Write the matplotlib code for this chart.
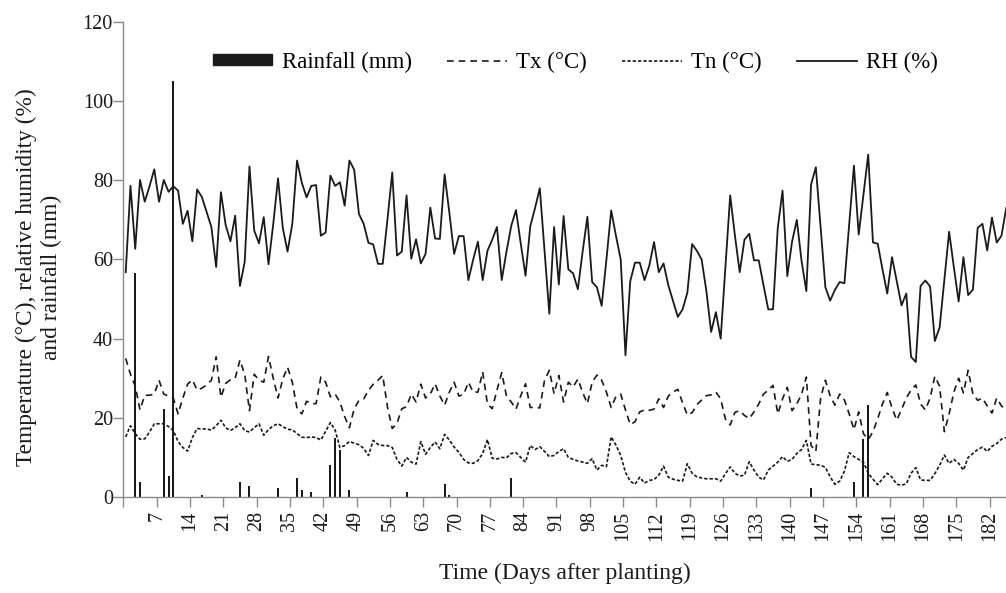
import matplotlib
matplotlib.use("Agg")
import matplotlib.pyplot as plt
import numpy as np
from matplotlib.patches import Patch
from matplotlib.lines import Line2D

# ---------------- data ----------------
days = list(range(1, 187))

rh = [56.8, 78.6, 62.7, 80.1, 74.6, 78.5, 82.8, 74.6, 80.1, 77.1,
      78.5, 77.4, 69.0, 72.3, 64.6, 77.7, 75.8, 72.0, 68.2, 58.1,
      77.0, 68.7, 64.6, 71.1, 53.3, 59.4, 83.5, 67.3, 64.1, 70.7,
      58.8, 69.0, 80.5, 68.0, 62.0, 69.0, 85.0, 79.4, 75.7, 78.6,
      78.8, 66.0, 66.8, 81.2, 78.6, 79.5, 73.6, 85.0, 82.7, 71.5,
      69.0, 64.2, 63.8, 58.9, 58.9, 70.2, 82.0, 61.0, 62.0, 76.2,
      60.2, 65.1, 59.0, 61.4, 73.1, 65.3, 65.2, 81.5, 71.8, 61.4,
      65.9, 65.9, 54.8, 60.0, 64.5, 54.8, 62.2, 65.0, 68.2, 54.8,
      62.0, 68.5, 72.5, 64.0, 55.9, 68.4, 73.0, 78.0, 62.0, 46.3,
      68.2, 53.7, 71.0, 57.5, 56.5, 52.5, 62.0, 70.8, 54.3, 53.0,
      48.3, 60.0, 72.4, 66.0, 60.0, 35.8, 54.5, 59.2, 59.2, 54.8,
      58.4, 64.4, 56.8, 59.0, 53.5, 49.5, 45.5, 47.4, 51.6, 63.9,
      62.2, 60.0, 52.0, 41.7, 46.7, 40.0, 58.0, 76.2, 66.0, 56.8,
      65.0, 66.5, 59.8, 59.8, 53.5, 47.4, 47.4, 68.0, 77.4, 55.8,
      64.5, 70.0, 59.6, 52.0, 79.0, 83.3, 68.0, 53.0, 49.6, 52.3,
      54.3, 54.0, 69.0, 83.7, 66.3, 76.5, 86.5, 64.3, 64.0, 57.5,
      51.4, 60.6, 54.5, 48.4, 51.4, 35.4, 34.1, 53.3, 54.7, 53.2,
      39.4, 42.8, 55.0, 67.0, 58.0, 49.4, 60.6, 51.0, 52.4, 68.0,
      69.0, 62.3, 70.6, 64.3, 66.0, 73.0]

tx = [35.0, 31.0, 28.0, 22.0, 25.7, 25.7, 26.0, 29.5, 26.0, 25.5,
      25.0, 21.0, 25.0, 28.5, 29.6, 27.0, 27.5, 28.3, 29.5, 35.4,
      25.2, 28.7, 29.6, 30.0, 34.6, 31.0, 21.8, 31.0, 29.5, 29.0,
      35.5, 30.0, 25.0, 29.8, 32.8, 29.0, 22.3, 21.0, 24.2, 23.5,
      23.6, 30.3, 29.0, 25.3, 26.0, 24.0, 20.3, 17.5, 22.3, 24.4,
      24.8, 26.9, 28.5, 29.5, 30.7, 22.7, 17.3, 18.6, 22.3, 22.8,
      26.0, 24.0, 28.5, 25.0, 26.0, 28.6, 25.5, 23.2, 26.5, 29.0,
      25.5, 25.9, 29.0, 26.5, 26.5, 31.6, 23.5, 22.3, 27.0, 31.4,
      25.5, 24.0, 22.2, 25.6, 28.6, 22.6, 22.7, 22.5, 29.5, 32.0,
      26.1, 30.7, 24.0, 29.0, 27.8, 29.8, 26.4, 23.6, 29.0, 30.8,
      29.5, 26.5, 22.6, 25.4, 26.0, 22.0, 18.3, 19.0, 21.5, 22.0,
      21.9, 22.2, 24.8, 22.6, 25.5, 26.5, 27.2, 23.8, 20.7, 21.3,
      23.3, 24.5, 25.6, 25.8, 26.5, 24.8, 19.7, 18.2, 21.4, 21.8,
      20.6, 19.8, 21.5, 23.5, 26.0, 27.0, 28.2, 21.0, 24.8, 27.7,
      21.8, 23.5, 26.0, 30.3, 13.0, 11.5, 25.0, 29.5, 25.6, 23.2,
      26.0, 24.5, 21.0, 17.0, 21.5, 16.0, 14.5, 16.5, 19.8, 23.5,
      26.4, 22.5, 19.4, 22.1, 25.0, 27.0, 28.3, 23.5, 22.0, 25.0,
      30.5, 28.0, 16.5, 21.0, 26.5, 30.0, 26.3, 32.0, 26.0, 24.4,
      25.0, 23.0, 21.2, 25.0, 23.0, 22.0]

tn = [15.2, 18.0, 16.0, 14.6, 14.7, 16.4, 18.5, 18.5, 18.5, 17.8,
      16.8, 14.0, 12.5, 11.6, 15.0, 17.3, 17.2, 17.2, 16.9, 18.0,
      19.4, 17.5, 16.8, 17.5, 18.5, 16.8, 16.4, 17.5, 18.5, 15.6,
      17.0, 18.0, 18.5, 17.8, 17.1, 17.0, 16.0, 15.1, 15.0, 15.2,
      15.0, 14.4, 16.6, 18.8, 16.9, 12.5, 13.0, 14.0, 13.6, 13.2,
      12.3, 10.5, 14.3, 13.3, 13.0, 13.0, 12.5, 9.5, 7.8, 10.0,
      8.8, 8.3, 14.0, 10.8, 12.5, 13.9, 12.2, 15.8, 14.4, 12.6,
      11.3, 9.5, 8.6, 8.5, 9.2, 11.0, 14.5, 9.8, 9.6, 10.0,
      9.9, 11.0, 11.2, 10.0, 8.8, 13.0, 12.0, 12.7, 11.5, 10.2,
      10.5, 11.5, 12.2, 10.0, 9.5, 9.1, 8.8, 8.5, 9.7, 6.8,
      8.0, 7.7, 15.2, 13.1, 10.5, 6.2, 4.0, 3.2, 5.0, 3.5,
      4.2, 4.4, 5.5, 7.8, 5.0, 4.5, 4.2, 4.0, 8.4, 6.0,
      5.1, 4.8, 4.6, 4.6, 4.6, 4.0, 5.9, 7.6, 6.0, 5.3,
      5.5, 8.9, 6.8, 5.0, 4.3, 6.8, 7.8, 8.8, 10.2, 9.0,
      9.5, 11.0, 12.0, 14.3, 8.3, 8.2, 8.0, 7.5, 5.1, 3.2,
      4.0, 6.5, 11.2, 10.2, 9.5, 8.8, 6.0, 4.5, 3.1, 4.6,
      6.0, 5.0, 3.2, 3.0, 3.3, 6.0, 7.4, 4.3, 4.2, 4.2,
      5.9, 8.0, 10.6, 8.5, 9.5, 8.5, 6.8, 10.0, 11.0, 12.0,
      12.6, 11.5, 12.8, 13.5, 14.6, 15.0]

rain_days = [3, 4, 9, 10, 11, 17, 25, 27, 33, 37, 38, 40, 44, 45, 46, 48,
             60, 68, 69, 82, 145, 154, 156, 157]
rain_mm = [56.5, 3.8, 22.2, 5.2, 105.0, 0.6, 3.8, 2.9, 2.3, 4.8, 1.8, 1.3,
           8.2, 14.8, 11.9, 1.7, 1.3, 3.2, 0.6, 4.8, 2.2, 3.7, 14.6, 23.2]

tick_labels = ["", "7", "14", "21", "28", "35", "42", "49", "56", "63", "70",
               "77", "84", "91", "98", "105", "112", "119", "126", "133",
               "140", "147", "154", "161", "168", "175", "182"]
y_ticks = [0, 20, 40, 60, 80, 100, 120]

# ---------------- style ----------------
FONT = ["Liberation Serif", "DejaVu Serif"]
plt.rcParams["font.family"] = FONT
plt.rcParams["font.size"] = 14
ink = "#1a1a1a"
axis_col = "#8a8a8a"

fig = plt.figure(figsize=(10.06, 5.93), dpi=100)
ax = fig.add_axes([0.1226, 0.1619, 0.8774, 0.8010])

ax.bar(rain_days, rain_mm, width=0.42, color=ink, zorder=2)
ax.plot(days, tx, color=ink, lw=1.2, dashes=(4.0, 3.0), zorder=3)
ax.plot(days, tn, color=ink, lw=1.2, dashes=(2.0, 1.2), zorder=3)
ax.plot(days, rh, color=ink, lw=1.3, zorder=4)

ax.set_ylim(0, 120)
ax.set_xlim(0.5, 185.95)
ax.set_yticks(y_ticks)
ax.set_xticks([0.5 + 7 * i for i in range(len(tick_labels))])
ax.set_xticklabels(tick_labels, rotation=90, va="top", ha="center")

for s in ("top", "right"):
    ax.spines[s].set_visible(False)
for s in ("left", "bottom"):
    ax.spines[s].set_color(axis_col)
    ax.spines[s].set_linewidth(1.0)
ax.tick_params(axis="both", colors=axis_col, labelcolor=ink, length=7,
               width=1.0, labelsize=14.5)
ax.tick_params(axis="y", pad=0.5)
ax.tick_params(axis="x", pad=3)

ax.set_xlabel("Time (Days after planting)", fontsize=17, color=ink)
ax.xaxis.set_label_coords(0.5, -0.138)
ax.set_ylabel("Temperature (\u00b0C), relative humidity (%)\nand rainfall (mm)",
              fontsize=16.8, color=ink, linespacing=1.25)
ax.yaxis.set_label_coords(-0.069, 0.462)

handles = [Patch(facecolor=ink, edgecolor=ink),
           Line2D([], [], color=ink, lw=1.2, dashes=(4.0, 3.0)),
           Line2D([], [], color=ink, lw=1.2, dashes=(2.0, 1.2)),
           Line2D([], [], color=ink, lw=1.3)]
labels = ["Rainfall (mm)", "Tx (\u00b0C)", "Tn (\u00b0C)", "RH (%)"]
leg = ax.legend(handles, labels, loc="center", bbox_to_anchor=(0.512, 0.915),
                ncol=4, frameon=False, fontsize=16.5, handlelength=2.6,
                handleheight=0.35, columnspacing=1.55, handletextpad=0.4)

fig.savefig("out.png", dpi=100)
